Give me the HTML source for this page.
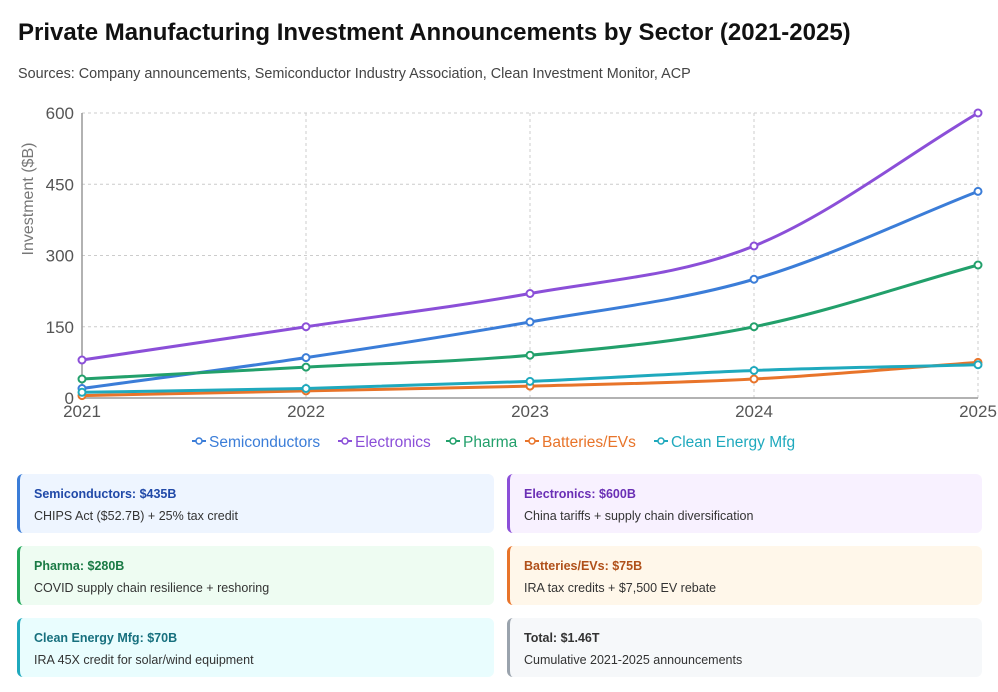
<!DOCTYPE html>
<html><head><meta charset="utf-8">
<style>
body{margin:0;width:998px;height:692px;background:#fff;font-family:"Liberation Sans",sans-serif;position:relative;overflow:hidden}
h1{position:absolute;left:18px;top:19px;margin:0;font-size:24px;font-weight:bold;color:#111}
.sub{position:absolute;left:18px;top:66px;font-size:14.4px;color:#444}
svg{position:absolute;left:0;top:0}
.card{position:absolute;width:477px;height:59px;border-left:3px solid;border-radius:6px;box-sizing:border-box;padding:13px 0 0 14px}
.card b{display:block;font-size:12.5px;margin-bottom:6px}
.card span{font-size:12.5px;color:#333}
</style></head><body>
<h1>Private Manufacturing Investment Announcements by Sector (2021-2025)</h1>
<div class="sub">Sources: Company announcements, Semiconductor Industry Association, Clean Investment Monitor, ACP</div>
<svg id="chart" width="998" height="470"></svg>

<div class="card" style="left:17px;top:474px;border-color:#3b7dd8;background:#eef5ff"><b style="color:#2049a8">Semiconductors: $435B</b><span>CHIPS Act ($52.7B) + 25% tax credit</span></div>
<div class="card" style="left:507px;top:474px;width:475px;border-color:#8b4fd8;background:#f8f1ff"><b style="color:#6a2fb5">Electronics: $600B</b><span>China tariffs + supply chain diversification</span></div>
<div class="card" style="left:17px;top:546px;border-color:#22a85a;background:#eefcf2"><b style="color:#1a7a45">Pharma: $280B</b><span>COVID supply chain resilience + reshoring</span></div>
<div class="card" style="left:507px;top:546px;width:475px;border-color:#e8742a;background:#fff7ea"><b style="color:#b0501a">Batteries/EVs: $75B</b><span>IRA tax credits + $7,500 EV rebate</span></div>
<div class="card" style="left:17px;top:618px;border-color:#1fa9bd;background:#e9fdfe"><b style="color:#17707e">Clean Energy Mfg: $70B</b><span>IRA 45X credit for solar/wind equipment</span></div>
<div class="card" style="left:507px;top:618px;width:475px;border-color:#9aa3ad;background:#f6f8fa"><b style="color:#333">Total: $1.46T</b><span>Cumulative 2021-2025 announcements</span></div>

<script>
const years=["2021","2022","2023","2024","2025"];
const yTicks=[0,150,300,450,600];
const semiconductors=[20,85,160,250,435];
const electronics=[80,150,220,320,600];
const pharma=[40,65,90,150,280];
const batteries=[5,15,25,40,75];
const cleanEnergy=[12,20,35,58,70];
const seriesNames=["Semiconductors","Electronics","Pharma","Batteries/EVs","Clean Energy Mfg"];
const seriesData=[semiconductors,electronics,pharma,batteries,cleanEnergy];
const colors=["#3b7dd8","#8b4fd8","#22a06b","#e8742a","#1fa9bd"];

const svg=document.getElementById('chart');
const NS="http://www.w3.org/2000/svg";
const L=82,R=978,T=113,B=398,YMAX=600;
const xs=i=>L+(R-L)*i/(years.length-1);
const ys=v=>B-(B-T)*v/YMAX;
function mk(t,a,txt){const e=document.createElementNS(NS,t);for(const k in a)e.setAttribute(k,a[k]);if(txt!=null)e.textContent=txt;svg.appendChild(e);return e;}

yTicks.forEach(v=>{
  const g=mk('line',{x1:L,x2:R,y1:ys(v),y2:ys(v),stroke:'#ccc','stroke-dasharray':'3,3'});
  
  
  const t=mk('text',{x:L-8,y:ys(v)+6,'text-anchor':'end','font-size':17,fill:'#555'},v);
  
  
});
years.forEach((y,i)=>{
  const g=mk('line',{x1:xs(i),x2:xs(i),y1:T,y2:B,stroke:'#ccc','stroke-dasharray':'3,3'});
  
  
  const t=mk('text',{x:xs(i),y:B+19,'text-anchor':'middle','font-size':17,fill:'#555'},y);
  
  
});
const ax1=mk('line',{x1:L,x2:L,y1:T,y2:B,stroke:'#999','stroke-width':1.5});


const ax2=mk('line',{x1:L,x2:R,y1:B,y2:B,stroke:'#999','stroke-width':1.5});


const yt=mk('text',{x:33,y:199,'text-anchor':'middle','font-size':16,fill:'#777',transform:'rotate(-90 33 199)'},'Investment ($B)');



function monotone(pts){
  const n=pts.length,d=[],m=[];
  for(let i=0;i<n-1;i++)d.push((pts[i+1][1]-pts[i][1])/(pts[i+1][0]-pts[i][0]));
  m[0]=d[0];m[n-1]=d[n-2];
  for(let i=1;i<n-1;i++)m[i]=(d[i-1]*d[i]<=0)?0:(d[i-1]+d[i])/2;
  for(let i=0;i<n-1;i++){if(d[i]===0){m[i]=m[i+1]=0;continue;}const a=m[i]/d[i],b=m[i+1]/d[i],s=a*a+b*b;if(s>9){const t=3/Math.sqrt(s);m[i]=t*a*d[i];m[i+1]=t*b*d[i];}}
  let p=`M${pts[0][0]},${pts[0][1]}`;
  for(let i=0;i<n-1;i++){const h=(pts[i+1][0]-pts[i][0])/3;p+=`C${pts[i][0]+h},${pts[i][1]+m[i]*h} ${pts[i+1][0]-h},${pts[i+1][1]-m[i+1]*h} ${pts[i+1][0]},${pts[i+1][1]}`;}
  return p;
}
seriesData.forEach((arr,si)=>{
  const pts=arr.map((v,i)=>[xs(i),ys(v)]);
  const p=mk('path',{d:monotone(pts),fill:'none',stroke:colors[si],'stroke-width':3});
  
  
  pts.forEach(q=>{
    const c=mk('circle',{cx:q[0],cy:q[1],r:3.5,fill:'#fff',stroke:colors[si],'stroke-width':2});
    
    
  });
});
// legend
const widths=[146,108,79,129,150];
let lx=192,ly=441;
seriesNames.forEach((n,i)=>{
  const g=document.createElementNS(NS,'g');
  
  
  svg.appendChild(g);
  const l=document.createElementNS(NS,'line');
  l.setAttribute('x1',lx);l.setAttribute('x2',lx+14);l.setAttribute('y1',ly);l.setAttribute('y2',ly);l.setAttribute('stroke',colors[i]);l.setAttribute('stroke-width',2);g.appendChild(l);
  const c=document.createElementNS(NS,'circle');
  c.setAttribute('cx',lx+7);c.setAttribute('cy',ly);c.setAttribute('r',3);c.setAttribute('fill','#fff');c.setAttribute('stroke',colors[i]);c.setAttribute('stroke-width',1.5);g.appendChild(c);
  const t=document.createElementNS(NS,'text');
  t.setAttribute('x',lx+17);t.setAttribute('y',ly+6);t.setAttribute('font-size',15.5);t.setAttribute('fill',colors[i]);t.textContent=n;g.appendChild(t);
  lx+=widths[i];
});
</script>
</body></html>
